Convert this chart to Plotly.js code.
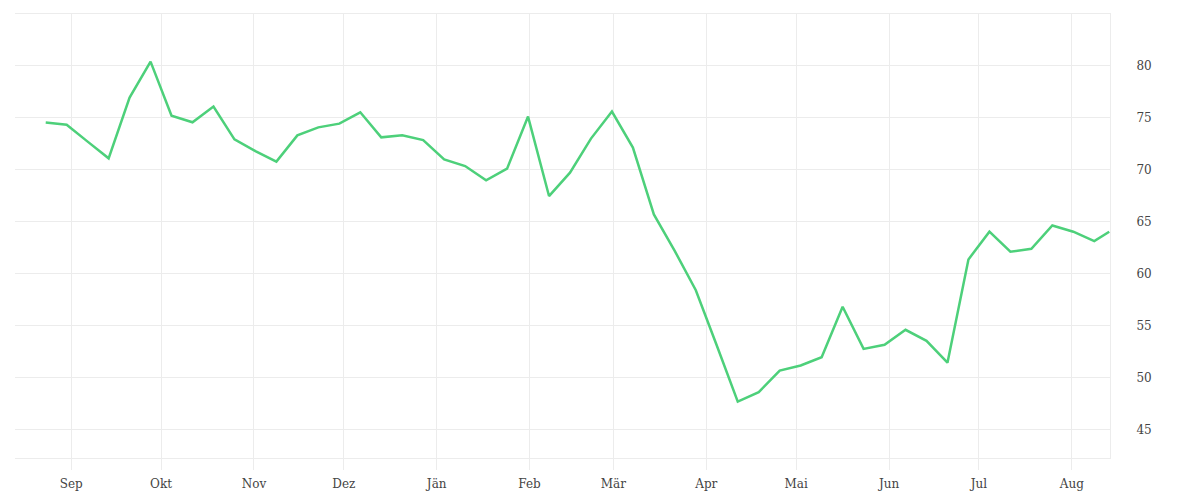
<!DOCTYPE html>
<html>
<head>
<meta charset="utf-8">
<script src="https://cdn.plot.ly/plotly-3.0.1.min.js"></script>
<style>html,body{margin:0;padding:0;background:#fff;}#chart{width:1200px;height:500px;}</style>
</head>
<body>
<div id="chart"></div>
<script>
// Weekly observations (first point 2022-08-23 12:00, last partial week 2023-08-13)
const startDate = '2022-08-23T12:00:00Z';
const lastDate = '2023-08-13 12:00';
const values = [
  74.55, 74.35, 72.72, 71.11, 76.96, 80.42, 75.22, 74.58, 76.09, 72.94,
  71.81, 70.79, 73.32, 74.09, 74.45, 75.54, 73.13, 73.33, 72.87, 71.01,
  70.37, 68.99, 70.12, 75.13, 67.48, 69.73, 73.01, 75.61, 72.14, 65.71,
  62.18, 58.42, 53.10, 47.70, 48.61, 50.68, 51.17, 51.97, 56.82, 52.77,
  53.16, 54.61, 53.55, 51.44, 61.38, 64.05, 62.12, 62.41, 64.65, 64.05,
  63.14, 64.05
];
const monthTickVals = ['2022-09-01','2022-10-01','2022-11-01','2022-12-01','2023-01-01','2023-02-01',
  '2023-03-01','2023-04-01','2023-05-01','2023-06-01','2023-07-01','2023-08-01'];
const monthTickText = ['Sep','Okt','Nov','Dez','Jän','Feb','Mär','Apr','Mai','Jun','Jul','Aug'];
const yTickVals = [45, 50, 55, 60, 65, 70, 75, 80];

// build date list: weekly from startDate, last entry is lastDate
function isoStamp(d){ return d.toISOString().slice(0,16).replace('T',' '); }
const dates = [];
const d0 = new Date(startDate);
for (let i = 0; i < values.length - 1; i++) {
  const d = new Date(d0.getTime() + i * 7 * 86400000);
  dates.push(isoStamp(d));
}
dates.push(lastDate);

const grid = '#ececec';
const fontFam = '"DejaVu Serif", serif';

Plotly.newPlot('chart', [{
  type: 'scatter',
  mode: 'lines',
  x: dates,
  y: values,
  line: {color: '#4dd07a', width: 2.5},
  hoverinfo: 'x+y'
}], {
  width: 1200, height: 500,
  margin: {l: 15, r: 90, t: 14, b: 42},
  paper_bgcolor: '#fff', plot_bgcolor: '#fff',
  showlegend: false,
  font: {family: fontFam, size: 12, color: '#444'},
  xaxis: {
    type: 'date',
    range: ['2022-08-13 06:00', '2023-08-13 18:00'],
    tickvals: monthTickVals,
    ticktext: monthTickText,
    showgrid: true, gridcolor: grid, gridwidth: 1,
    ticks: 'outside', ticklen: 11, tickcolor: grid, tickwidth: 1,
    ticklabelstandoff: 4,
    showline: true, linecolor: grid, linewidth: 1, mirror: true,
    zeroline: false,
    tickfont: {family: fontFam, size: 12, color: '#444'}
  },
  yaxis: {
    side: 'right',
    range: [42.27, 85.0],
    tickvals: yTickVals,
    showgrid: true, gridcolor: grid, gridwidth: 1,
    ticks: '', ticklabelstandoff: 23,
    showline: true, linecolor: grid, linewidth: 1,
    zeroline: false,
    tickfont: {family: fontFam, size: 12, color: '#444'}
  }
}, {displayModeBar: false, staticPlot: true});
</script>
</body>
</html>
